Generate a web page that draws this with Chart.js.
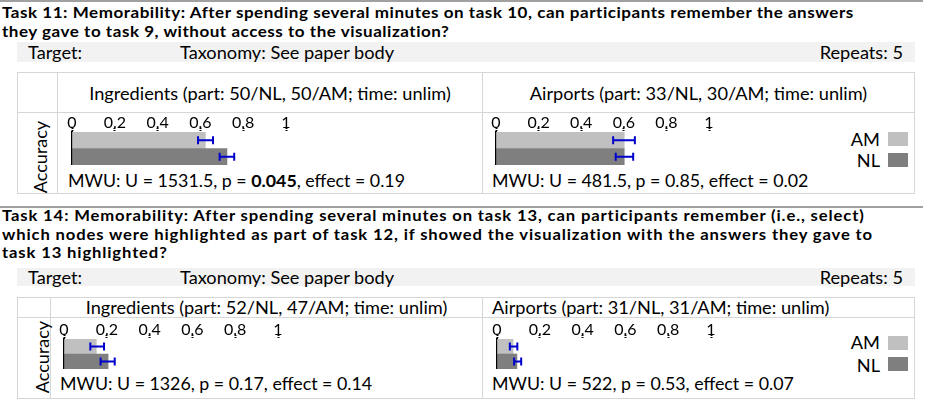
<!DOCTYPE html>
<html>
<head>
<meta charset="utf-8">
<script src="https://cdn.jsdelivr.net/npm/chart.js@4.4.1/dist/chart.umd.min.js"></script>
<style>
  html, body { margin: 0; padding: 0; background: #fff; }
  body { width: 930px; height: 414px; position: relative; overflow: hidden;
         font-family: Lato, "Open Sans", sans-serif; color: #000; }
  .rule { position: absolute; left: 0; width: 923px; height: 2px; background: #a0a0a0; }
  .title { position: absolute; left: 2px; font-weight: bold; white-space: nowrap; transform-origin: 0 0; }
  .band { position: absolute; left: 17px; width: 898px; background: #f2f2f2; }
  .txt { position: absolute; font-size: 18.2px; line-height: 20px; white-space: nowrap; }
  .mwu { font-size: 17.8px; }
  .box { position: absolute; border: 1px solid #d6d6d6; box-sizing: border-box; }
  .vl { position: absolute; width: 1px; background: #d6d6d6; }
  .hl { position: absolute; height: 1px; background: #d6d6d6; }
  .acc { position: absolute; font-size: 18px; line-height: 20px; width: 90px; text-align: center;
         transform: rotate(-90deg); }
  .sw { position: absolute; width: 20px; height: 14px; }
  canvas { position: absolute; }
</style>
</head>
<body>

<!-- ── Task 11 ── -->
<div class="rule" style="top:0px"></div>
<div class="title" style="top:2px;font-size:15.8px;line-height:19px;letter-spacing:0.5px;transform:scaleX(1.076)">Task 11: Memorability: After spending several minutes on task 10, can participants remember the answers<br>they gave to task 9, without access to the visualization?</div>
<div class="band" style="top:42px;height:20px"></div>
<div class="txt" style="left:28px;top:42px">Target:</div>
<div class="txt" style="left:180px;top:42px">Taxonomy: See paper body</div>
<div class="txt" style="right:27px;top:42px">Repeats: 5</div>

<div class="box" style="left:17px;top:72px;width:898px;height:122px"></div>
<div class="vl" style="left:57px;top:72px;height:122px"></div>
<div class="vl" style="left:482px;top:72px;height:122px"></div>
<div class="hl" style="left:17px;top:112px;width:898px"></div>
<div class="txt" style="left:58px;width:424px;text-align:center;top:83px">Ingredients (part: 50/NL, 50/AM; time: unlim)</div>
<div class="txt" style="left:483px;width:431px;text-align:center;top:83px">Airports (part: 33/NL, 30/AM; time: unlim)</div>
<div class="acc" style="left:-5px;top:147px">Accuracy</div>
<div class="txt mwu" style="left:68px;top:170px">MWU: U = 1531.5, p = <b>0.045</b>, effect = 0.19</div>
<div class="txt mwu" style="left:492px;top:170px">MWU: U = 481.5, p = 0.85, effect = 0.02</div>
<div class="txt" style="right:50px;top:129px">AM</div>
<div class="sw" style="left:888px;top:132px;background:#c0c0c0"></div>
<div class="txt" style="right:50px;top:150px">NL</div>
<div class="sw" style="left:888px;top:153px;background:#7f7f7f"></div>
<canvas id="c1" width="244" height="51" style="left:62px;top:114px"></canvas>
<canvas id="c2" width="243" height="51" style="left:486px;top:114px"></canvas>

<!-- ── Task 14 ── -->
<div class="rule" style="top:206px"></div>
<div class="title" style="top:206px;font-size:15.4px;line-height:18.5px;letter-spacing:0.8px;transform:scaleX(1.08)">Task 14: Memorability: After spending several minutes on task 13, can participants remember (i.e., select)<br>which nodes were highlighted as part of task 12, if showed the visualization with the answers they gave to<br>task 13 highlighted?</div>
<div class="band" style="top:268px;height:18px"></div>
<div class="txt" style="left:28px;top:267px">Target:</div>
<div class="txt" style="left:180px;top:267px">Taxonomy: See paper body</div>
<div class="txt" style="right:27px;top:267px">Repeats: 5</div>

<div class="box" style="left:17px;top:297px;width:898px;height:102px"></div>
<div class="vl" style="left:50px;top:297px;height:102px"></div>
<div class="vl" style="left:482px;top:297px;height:102px"></div>
<div class="hl" style="left:17px;top:317px;width:898px"></div>
<div class="txt" style="left:51px;width:431px;text-align:center;top:297px">Ingredients (part: 52/NL, 47/AM; time: unlim)</div>
<div class="txt" style="left:492px;top:297px">Airports (part: 31/NL, 31/AM; time: unlim)</div>
<div class="acc" style="left:-3px;top:347px">Accuracy</div>
<div class="txt mwu" style="left:60px;top:373px">MWU: U = 1326, p = 0.17, effect = 0.14</div>
<div class="txt mwu" style="left:492px;top:373px">MWU: U = 522, p = 0.53, effect = 0.07</div>
<div class="txt" style="right:50px;top:332px">AM</div>
<div class="sw" style="left:888px;top:336px;background:#c0c0c0"></div>
<div class="txt" style="right:50px;top:355px">NL</div>
<div class="sw" style="left:888px;top:357px;background:#7f7f7f"></div>
<canvas id="c3" width="244" height="48" style="left:54px;top:321px"></canvas>
<canvas id="c4" width="244" height="48" style="left:487px;top:321px"></canvas>

<script>
// ── Datos ──
const groups     = ['AM', 'NL'];
const tickValues = [0, 0.2, 0.4, 0.6, 0.8, 1];
const tickLabels = ['0', '0.2', '0.4', '0.6', '0.8', '1'];

// Task 11 – Ingredients
const t11IngMean = [0.623, 0.724];
const t11IngLow  = [0.589, 0.690];
const t11IngHigh = [0.659, 0.758];
// Task 11 – Airports
const t11AirMean = [0.602, 0.602];
const t11AirLow  = [0.550, 0.562];
const t11AirHigh = [0.652, 0.644];
// Task 14 – Ingredients
const t14IngMean = [0.151, 0.206];
const t14IngLow  = [0.123, 0.171];
const t14IngHigh = [0.187, 0.237];
// Task 14 – Airports
const t14AirMean = [0.075, 0.093];
const t14AirLow  = [0.060, 0.080];
const t14AirHigh = [0.095, 0.113];

const COLORES = ['#c0c0c0', '#7f7f7f'];
const FUENTE  = 'Lato, "Open Sans", sans-serif';

// ── Barras de error ──
const errorBars = {
  id: 'errorBars',
  afterDatasetsDraw(chart, args, opts) {
    const { ctx, scales: { x } } = chart;
    const meta = chart.getDatasetMeta(0);
    ctx.save();
    ctx.strokeStyle = '#0000cc';
    ctx.lineWidth = 2;
    meta.data.forEach((bar, i) => {
      const x0 = x.getPixelForValue(opts.low[i]);
      const x1 = x.getPixelForValue(opts.high[i]);
      const y = bar.y;
      ctx.beginPath();
      ctx.moveTo(x0, y); ctx.lineTo(x1, y);
      ctx.moveTo(x0, y - 4); ctx.lineTo(x0, y + 4);
      ctx.moveTo(x1, y - 4); ctx.lineTo(x1, y + 4);
      ctx.stroke();
    });
    ctx.restore();
  }
};

function crearGrafico(id, mean, low, high) {
  const ctx = document.getElementById(id).getContext('2d');
  return new Chart(ctx, {
    type: 'bar',
    data: {
      labels: groups,
      datasets: [{
        data: mean,
        backgroundColor: COLORES,
        borderWidth: 0,
        categoryPercentage: 1,
        barPercentage: 1,
      }],
    },
    options: {
      responsive: false,
      animation: false,
      indexAxis: 'y',
      layout: { padding: { left: 0, right: 20, top: 0, bottom: 0 } },
      plugins: {
        legend: { display: false },
        tooltip: { enabled: false },
        errorBars: { low, high },
      },
      scales: {
        x: {
          position: 'top',
          min: 0, max: 1,
          afterBuildTicks: s => { s.ticks = tickValues.map(v => ({ value: v })); },
          afterFit: s => { s.height = 18; },
          border: { display: false },
          grid: { drawOnChartArea: false, drawTicks: true, tickLength: 4,
                  tickColor: '#000', tickWidth: 2, tickBorderDash: [1, 1] },
          ticks: {
            color: '#000', padding: -4, maxRotation: 0,
            font: { family: FUENTE, size: 16 },
            callback: (v, i) => tickLabels[i],
          },
        },
        y: {
          afterFit: s => { s.width = 10; },
          border: { display: true, color: '#000', width: 2 },
          grid: { display: false },
          ticks: { display: false },
        },
      },
    },
    plugins: [errorBars],
  });
}

crearGrafico('c1', t11IngMean, t11IngLow, t11IngHigh);
crearGrafico('c2', t11AirMean, t11AirLow, t11AirHigh);
crearGrafico('c3', t14IngMean, t14IngLow, t14IngHigh);
crearGrafico('c4', t14AirMean, t14AirLow, t14AirHigh);
</script>
</body>
</html>
